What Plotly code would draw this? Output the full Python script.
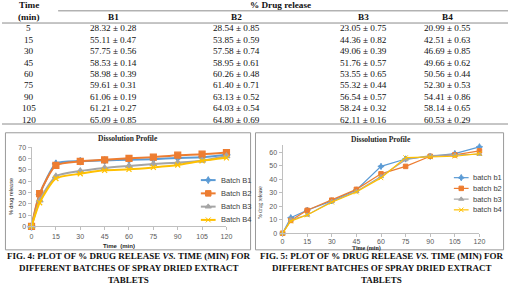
import plotly.graph_objects as go

W, H = 514, 287


def px(x):
    return x / W


def py(y):
    return 1 - y / H


# ---------------- Table data ----------------
time_min = [5, 15, 30, 45, 60, 75, 90, 105, 120]
b1_mean = [28.32, 55.11, 57.75, 58.53, 58.98, 59.61, 61.06, 61.21, 65.09]
b1_sd = [0.28, 0.47, 0.56, 0.14, 0.39, 0.31, 0.19, 0.27, 0.85]
b2_mean = [28.54, 53.85, 57.58, 58.95, 60.26, 61.40, 63.13, 64.03, 64.80]
b2_sd = [0.85, 0.59, 0.74, 0.61, 0.48, 0.71, 0.52, 0.54, 0.69]
b3_mean = [23.05, 44.36, 49.06, 51.76, 53.55, 55.32, 56.54, 58.24, 62.11]
b3_sd = [0.75, 0.82, 0.39, 0.57, 0.65, 0.44, 0.57, 0.32, 0.16]
b4_mean = [20.99, 42.51, 46.69, 49.66, 50.56, 52.30, 54.41, 58.14, 60.53]
b4_sd = [0.55, 0.63, 0.85, 0.62, 0.44, 0.53, 0.86, 0.65, 0.29]
table_cols = ["B1", "B2", "B3", "B4"]

# ---------------- Fig. 4 data ----------------
fig4_time = [0, 5, 15, 30, 45, 60, 75, 90, 105, 120]
fig4_names = ["Batch B1", "Batch B2", "Batch B3", "Batch B4"]
fig4_b1 = [0, 28.3, 55.5, 57.8, 58.5, 59.0, 59.6, 60.6, 61.2, 63.5]
fig4_b2 = [0, 29.0, 54.0, 57.6, 59.0, 60.3, 61.4, 63.1, 64.0, 65.5]
fig4_b3 = [0, 23.0, 44.4, 49.1, 51.8, 53.6, 55.3, 56.5, 58.2, 62.3]
fig4_b4 = [0, 21.0, 42.5, 46.7, 49.7, 50.6, 52.3, 54.4, 58.1, 60.8]

# ---------------- Fig. 5 data ----------------
fig5_time = [0, 5, 15, 30, 45, 60, 75, 90, 105, 120]
fig5_names = ["batch b1", "batch b2", "batch b3", "batch b4"]
fig5_b1 = [0, 11.5, 17.0, 24.0, 32.0, 49.5, 55.0, 57.0, 59.0, 64.0]
fig5_b2 = [0, 9.5, 17.0, 24.5, 32.5, 44.0, 49.5, 57.0, 58.0, 61.0]
fig5_b3 = [0, 10.0, 13.5, 23.5, 31.0, 42.0, 54.5, 57.5, 58.0, 58.5]
fig5_b4 = [0, 9.0, 13.5, 23.0, 30.5, 41.0, 56.0, 56.5, 57.0, 59.0]

tick_vals = [0, 15, 30, 45, 60, 75, 90, 105, 120]

colors = ["#5B9BD5", "#ED7D31", "#A5A5A5", "#FFC000"]
symbols4 = ["star-diamond", "square", "triangle-up", "x-thin-open"]
sizes4 = [5.5, 6, 6, 5]
symbols5 = ["star-diamond", "square", "triangle-up", "x-thin-open"]
sizes5 = [4.5, 4.5, 4.5, 4.5]

fig = go.Figure()

fig4_series = [fig4_b1, fig4_b2, fig4_b3, fig4_b4]
for i, ys in enumerate(fig4_series):
    fig.add_trace(go.Scatter(
        x=fig4_time, y=ys, mode="lines+markers", xaxis="x", yaxis="y",
        line=dict(color=colors[i], width=2, shape="spline", smoothing=0.6),
        marker=dict(symbol=symbols4[i], size=sizes4[i], color=colors[i],
                    line=dict(color=colors[i], width=1.2)),
        cliponaxis=False, showlegend=False, name=fig4_names[i]))

fig5_series = [fig5_b1, fig5_b2, fig5_b3, fig5_b4]
for i, ys in enumerate(fig5_series):
    fig.add_trace(go.Scatter(
        x=fig5_time, y=ys, mode="lines+markers", xaxis="x2", yaxis="y2",
        line=dict(color=colors[i], width=1.2),
        marker=dict(symbol=symbols5[i], size=sizes5[i], color=colors[i],
                    line=dict(color=colors[i], width=1)),
        cliponaxis=False, showlegend=False, name=fig5_names[i]))

# ---------------- manual legends (overlay pixel axis) ----------------
annotations = []
leg_cfg = [
    dict(names=fig4_names, x0=202, x1=217, tx=220, y0=180.5, step=13.6,
         syms=symbols4, sizes=[5, 5.5, 5.5, 5], lw=2, fs=7.5),
    dict(names=fig5_names, x0=459, x1=474, tx=476, y0=178, step=11,
         syms=symbols5, sizes=sizes5, lw=1.2, fs=7.5),
]
for cfg in leg_cfg:
    for i, nm in enumerate(cfg["names"]):
        yy = cfg["y0"] + i * cfg["step"]
        fig.add_trace(go.Scatter(
            x=[cfg["x0"], cfg["x1"]], y=[yy, yy], mode="lines", xaxis="x3", yaxis="y3",
            line=dict(color=colors[i], width=cfg["lw"]), showlegend=False, hoverinfo="skip"))
        fig.add_trace(go.Scatter(
            x=[(cfg["x0"] + cfg["x1"]) / 2], y=[yy], mode="markers", xaxis="x3", yaxis="y3",
            marker=dict(symbol=cfg["syms"][i], size=cfg["sizes"][i], color=colors[i],
                        line=dict(color=colors[i], width=1)),
            showlegend=False, hoverinfo="skip"))
        annotations.append(dict(
            x=px(cfg["tx"]), y=py(yy), xref="paper", yref="paper", text=nm,
            showarrow=False, xanchor="left", yanchor="middle",
            font=dict(family="Liberation Sans", size=cfg["fs"], color="#404040")))

# ---------------- table as text ----------------
serif = "Liberation Serif"
tcol_x = [27, 113, 238, 367, 453]
row_y0, row_step = 25, 11.68

table_ann = []
table_ann.append(dict(x=px(tcol_x[0]), y=py(1), text="<b>Time</b>"))
table_ann.append(dict(x=px(tcol_x[0]), y=py(13.5), text="<b>(min)</b>"))
table_ann.append(dict(x=px(283), y=py(1.5), text="<b>% Drug release</b>"))
for j, c in enumerate(table_cols):
    table_ann.append(dict(x=px(tcol_x[j + 1]), y=py(13.5), text="<b>%s</b>" % c))

means = [b1_mean, b2_mean, b3_mean, b4_mean]
sds = [b1_sd, b2_sd, b3_sd, b4_sd]
for r, t in enumerate(time_min):
    yy = row_y0 + r * row_step
    table_ann.append(dict(x=px(tcol_x[0]), y=py(yy), text=str(t)))
    for j in range(4):
        table_ann.append(dict(x=px(tcol_x[j + 1]), y=py(yy),
                              text="%.2f ± %.2f" % (means[j][r], sds[j][r])))

for a in table_ann:
    a.update(xref="paper", yref="paper", showarrow=False, xanchor="center",
             yanchor="middle", font=dict(family=serif, size=9.2, color="#111111"))
annotations += table_ann

# chart titles / axis titles
chart_txt = [
    (128, 138, "<b>Dissolution Profile</b>", 7.5, serif, 0),
    (385, 139, "<b>Dissolution Profile</b>", 7.5, serif, 0),
    (119, 248, "<b>Time  (min)</b>", 6, "Liberation Sans", 0),
    (370, 250.5, "<b>Time (min)</b>", 6, serif, 0),
    (9, 197, "% drug release", 5.5, "Liberation Sans", -90),
    (262, 203, "% drug release", 5.5, serif, -90),
]
for x, y, t, fs, fam, ang in chart_txt:
    annotations.append(dict(x=px(x), y=py(y), xref="paper", yref="paper", text=t,
                            showarrow=False, xanchor="center", yanchor="middle",
                            textangle=ang, font=dict(family=fam, size=fs, color="#262626")))

# captions
captions = [
    (128, ["FIG. 4: PLOT OF % DRUG RELEASE <i>VS.</i> TIME (MIN) FOR",
           "DIFFERENT BATCHES OF SPRAY DRIED EXTRACT", "TABLETS"]),
    (385, ["FIG. 5: PLOT OF % DRUG RELEASE <i>VS.</i> TIME (MIN) FOR",
           "DIFFERENT BATCHES OF SPRAY DRIED EXTRACT", "TABLETS"]),
]
for cx, lines in captions:
    for k, ln in enumerate(lines):
        annotations.append(dict(x=px(cx), y=py(258.5 + k * 12), xref="paper", yref="paper",
                                text="<b>%s</b>" % ln, showarrow=False, xanchor="center",
                                yanchor="middle", font=dict(family=serif, size=9, color="#111111")))

# ---------------- shapes ----------------
shapes = []
line_col = "#8C8C8C"
for (x0, x1, y) in [(57, 514, 7), (0, 514, 19.5), (0, 514, 123)]:
    shapes.append(dict(type="line", xref="paper", yref="paper", x0=px(x0), x1=px(x1),
                       y0=py(y), y1=py(y), line=dict(color=line_col, width=1)))
for (x0, x1, y0, y1) in [(3.5, 252.5, 132, 252), (257.5, 509.5, 132, 252)]:
    shapes.append(dict(type="rect", xref="paper", yref="paper", x0=px(x0), x1=px(x1),
                       y0=py(y0), y1=py(y1), line=dict(color="#9A9A9A", width=1)))

tickfont = dict(family="Liberation Sans", size=7, color="#595959")
axis_common = dict(showgrid=False, zeroline=False, showline=True, linecolor="#BFBFBF",
                   linewidth=1, ticks="outside", ticklen=3, tickcolor="#BFBFBF",
                   fixedrange=True)

fig.update_layout(
    width=W, height=H, margin=dict(l=0, r=0, t=0, b=0),
    paper_bgcolor="white", plot_bgcolor="rgba(0,0,0,0)",
    showlegend=False,
    xaxis=dict(domain=[px(30), px(228)], range=[0, 120], tickvals=tick_vals,
               tickfont=tickfont, anchor="y", **axis_common),
    yaxis=dict(domain=[py(228), py(147)], range=[0, 70], dtick=10,
               tickfont=tickfont, anchor="x", **axis_common),
    xaxis2=dict(domain=[px(285), px(485)], range=[0, 120], tickvals=tick_vals,
                tickfont=tickfont, anchor="y2", ticklabelstandoff=-2, **axis_common),
    yaxis2=dict(domain=[py(235), py(145)], range=[0, 65],
                tickvals=[0, 10, 20, 30, 40, 50, 60],
                tickfont=tickfont, anchor="x2", **axis_common),
    xaxis3=dict(domain=[0, 1], range=[0, W], visible=False, anchor="y3", fixedrange=True),
    yaxis3=dict(domain=[0, 1], range=[H, 0], visible=False, anchor="x3", fixedrange=True),
    annotations=annotations,
    shapes=shapes,
)

fig.write_html("out.html")
